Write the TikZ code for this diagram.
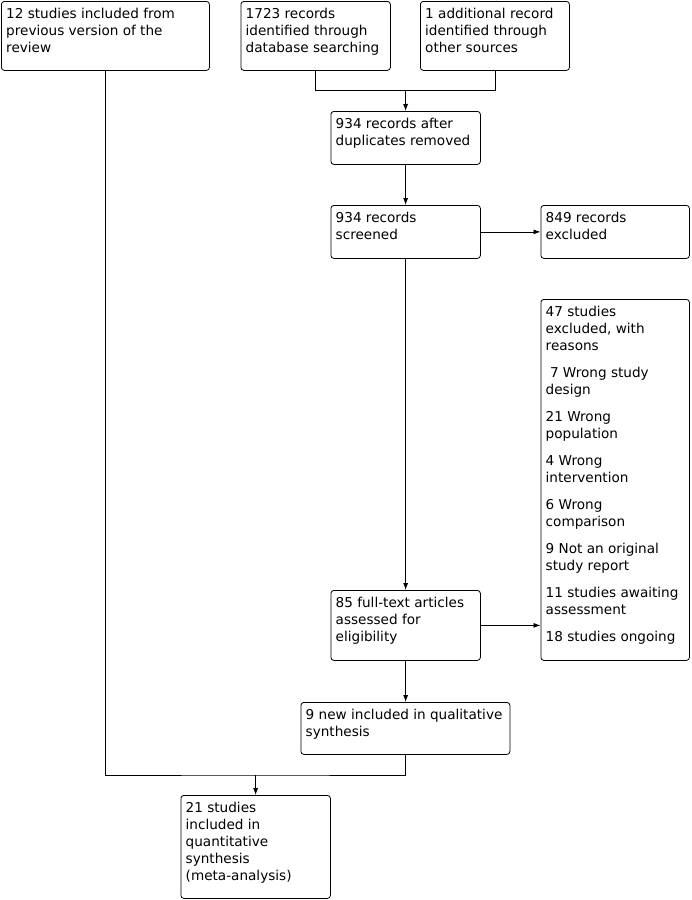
\documentclass[tikz,border=0pt]{standalone}
\usepackage{fontspec}
\setmainfont{DejaVu Sans}
\usetikzlibrary{arrows.meta}
\tikzset{
  box/.style={draw, rounded corners=3pt, line width=0.8pt, inner sep=0pt, anchor=north west},
  txt/.style={anchor=north west, inner sep=0pt, align=left, font=\fontsize{13.6}{17}\selectfont},
  conn/.style={line width=0.8pt},
  arr/.style={line width=0.8pt, -{Latex[length=7pt,width=5pt]}}
}
\newcommand{\boxat}[6]{% name, x, y, w, h, text
  \node[box, minimum width=#4pt, minimum height=#5pt] (#1) at (#2,-#3) {};
  \node[txt] (#1t) at ([xshift=5pt,yshift=-5.1pt]#1.north west) {\strut #6};
}
\begin{document}
\begin{tikzpicture}[x=1pt,y=1pt]
\useasboundingbox (0,0) rectangle (692,-900);
\boxat{b1}{1}{1}{208}{69}{12 studies included from\\previous version of the\\review}
\boxat{b2}{240.5}{1}{149.5}{69}{1723 records\\identified through\\database searching}
\boxat{b3}{420}{1}{149}{69}{1 additional record\\identified through\\other sources}
\boxat{b4}{330.5}{111}{149.5}{53}{934 records after\\duplicates removed}
\boxat{b5}{330.5}{205}{149.5}{53}{934 records\\screened}
\boxat{b6}{540.5}{205}{148.5}{53}{849 records\\excluded}
\boxat{b7}{540.5}{299}{148.5}{361}{47 studies\\excluded, with\\reasons\\[10pt]\ 7 Wrong study\\design\\[10pt]21 Wrong\\population\\[10pt]4 Wrong\\intervention\\[10pt]6 Wrong\\comparison\\[10pt]9 Not an original\\study report\\[10pt]11 studies awaiting\\assessment\\[10pt]18 studies ongoing}
\boxat{b8}{330.5}{590}{149.5}{70}{85 full-text articles\\assessed for\\eligibility}
\boxat{b9}{300.5}{702}{209}{52}{9 new included in qualitative\\synthesis}
\boxat{b10}{180.5}{795}{149.5}{103}{21 studies\\included in\\quantitative\\synthesis\\(meta-analysis)}
\coordinate (j1) at (405.5,-90.5);
\coordinate (j2) at (255.5,-775);
\draw[conn] (b2.south) |- (j1) -| (b3.south);
\draw[arr] (j1) -- (b4.north);
\draw[arr] (b4.south) -- (b5.north);
\draw[arr] (b5.east) -- (b6.west);
\draw[arr] (b5.south) -- (b8.north);
\draw[arr] (b8.east) -- (b7.west |- b8.east);
\draw[arr] (b8.south) -- (b9.north -| b8.south);
\draw[conn] (b1.south) |- (j2) -| (b9.south -| b8.south);
\draw[arr] (j2) -- (b10.north);
\end{tikzpicture}
\end{document}
